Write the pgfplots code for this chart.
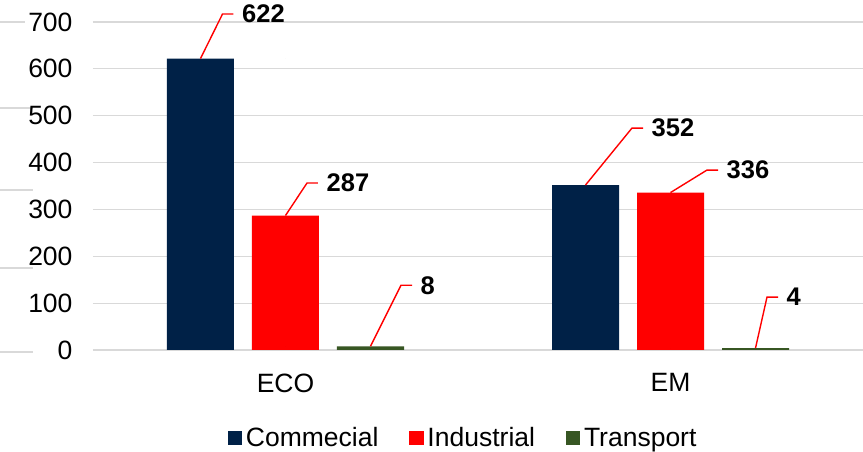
\documentclass[border=0pt]{standalone}
\usepackage{fontspec}
\setmainfont{Liberation Sans}
\usepackage{pgfplots}
\usepackage{pgfplotstable}
\pgfplotsset{compat=1.18}
\definecolor{comm}{RGB}{0,33,71}
\definecolor{ind}{RGB}{255,0,0}
\definecolor{trn}{RGB}{55,86,35}
\definecolor{gridc}{RGB}{217,217,217}
\newcommand{\bigf}{\fontsize{26.5}{31}\selectfont}
\newcommand{\legf}{\fontsize{26.5}{31}\selectfont}
\newcommand{\labf}{\fontsize{25.5}{30}\selectfont\bfseries}

% x = category index (0 = ECO, 1 = EM), y = value, dx/dy = leader line offset (px)
\pgfplotstableread{
x y dx dy
0 622 22 44.5
1 352 46.5 57
}\commtab
\pgfplotstableread{
x y dx dy
0 287 21.5 32.5
1 336 36.5 22.5
}\indtab
\pgfplotstableread{
x y dx dy
0 8 30.5 61
1 4 11.5 51
}\trntab

\pgfplotsset{
  mybar/.style={ybar, bar width=67pt, bar shift=#1, draw=none,
    legend image code/.code={\fill[##1] (0pt,-7pt) rectangle (14pt,7pt);}},
  leader/.style={forget plot, only marks, mark=*, mark size=0pt, scatter,
    visualization depends on={\thisrow{dx}\as\dx},
    visualization depends on={\thisrow{dy}\as\dy},
    visualization depends on={y\as\lab},
    scatter/@pre marker code/.code={%
      \draw[red, line width=1.4pt] (#1,0pt) -- ++(\dx pt,\dy pt) -- ++(11pt,0pt)
        node[anchor=west, inner sep=0pt, xshift=8pt, text=black, font=\labf]{\pgfmathprintnumber[fixed,precision=0,assume math mode=true]{\lab}};},
    scatter/@post marker code/.code={}},
}

\begin{document}
\begin{tikzpicture}
\useasboundingbox (-93pt,-102pt) rectangle (770pt,350pt);
\foreach \yy/\xx in {328/-68, 242/-60, 160/-60, 82/-60, -2/-60}
  \draw[gridc, line width=1.2pt] (-93pt,\yy pt) -- (\xx pt,\yy pt);
\begin{axis}[
  at={(0pt,0pt)}, anchor=south west,
  scale only axis, width=770pt, height=328pt,
  xmin=-0.5, xmax=1.5, ymin=0, ymax=700,
  xtick={0,1}, xticklabels={ECO,EM},
  ytick={0,100,200,300,400,500,600,700},
  yticklabels={0,100,200,300,400,500,600,700},
  /pgf/number format/assume math mode=true,
  ymajorgrids, grid style={gridc, line width=1.2pt},
  axis line style={draw=none},
  major tick length=0pt,
  tick label style={font=\bigf},
  yticklabel style={font=\bigf, anchor=east, xshift=-17pt},
  xticklabel style={yshift=-20pt},
  clip=false,
  legend style={at={(0.1753,-0.2683)}, anchor=west, draw=none, fill=none,
    inner sep=0pt, outer sep=0pt, font=\legf,
    nodes={inner sep=0pt},
    /tikz/every odd column/.append style={column sep=4pt},
    /tikz/every even column/.append style={column sep=31pt}},
  legend columns=3,
]
\addplot[mybar=-85pt, fill=comm] table[x=x,y=y]{\commtab};
\addplot[mybar=0pt, fill=ind] table[x=x,y=y]{\indtab};
\addplot[mybar=85pt, fill=trn] table[x=x,y=y]{\trntab};
\legend{Commecial, Industrial, Transport}
\addplot[leader=-85pt] table[x=x,y=y]{\commtab};
\addplot[leader=0pt] table[x=x,y=y]{\indtab};
\addplot[leader=85pt] table[x=x,y=y]{\trntab};
\end{axis}
\end{tikzpicture}
\end{document}
